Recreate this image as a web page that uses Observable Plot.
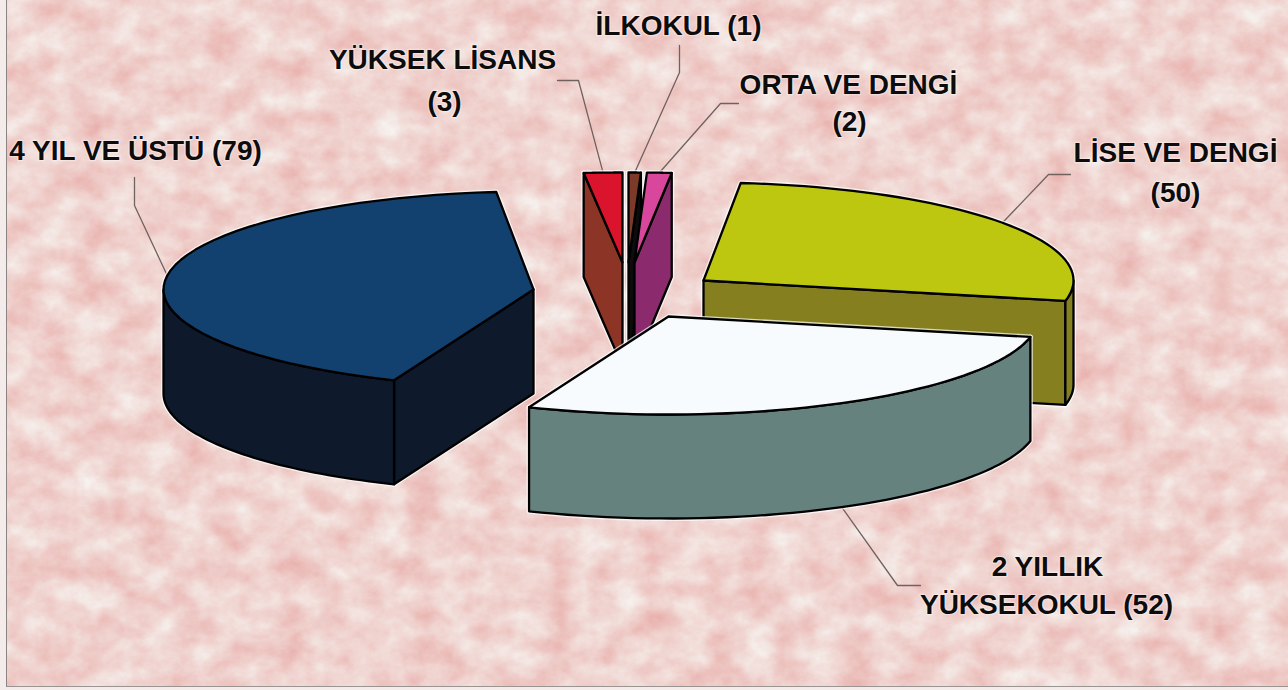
<!DOCTYPE html>
<html lang="tr">
<head>
<meta charset="utf-8">
<script src="https://cdn.jsdelivr.net/npm/d3@7"></script>
<script src="https://cdn.jsdelivr.net/npm/@observablehq/plot@0.6"></script>
<style>
html,body{margin:0;padding:0;background:#f3ecea;width:1288px;height:690px;overflow:hidden}
#paper{position:absolute;left:6px;top:0;width:1282px;height:687px;box-sizing:border-box;border-left:1.5px solid #8a8583;border-bottom:1.5px solid #9a9593;}
#chart{position:absolute;left:0;top:0}
#chart svg{background:transparent;display:block}
</style>
</head>
<body>
<div id="paper"></div>
<div id="chart"></div>
<script>
// ---- chart data (clockwise from 12 o'clock) ----
const names  = ["İLKOKUL", "ORTA VE DENGİ", "LİSE VE DENGİ", "2 YILLIK YÜKSEKOKUL", "4 YIL VE ÜSTÜ", "YÜKSEK LİSANS"];
const values = [1, 2, 50, 52, 79, 3];

// ---- look of each slice ----
const topColors  = ["#7e3a28", "#d8479c", "#bec70f", "#f8fbfd", "#12406f", "#da142c"];
const sideColors = ["#0d0b0b", "#8b2a6c", "#857f20", "#66827f", "#0e1a2c", "#8c3425"];

// ---- layout: exploded apex of each slice and ellipse radii ----
const apexX = [628, 634, 703, 668, 533, 622];
const apexY = [262, 262, 280, 316, 289, 262];
const radX  = [370, 370, 370, 370, 370, 386];
const radY  = [ 90,  90,  98,  98,  98,  90];
const depth = 104;

// ---- label text and placement ----
const labelRows = [
  ["İLKOKUL (1)", 678, 26],
  ["YÜKSEK LİSANS", 442, 60],
  ["(3)", 444, 102],
  ["ORTA VE DENGİ", 848, 85],
  ["(2)", 849, 122],
  ["LİSE VE DENGİ", 1175, 153],
  ["(50)", 1175, 193],
  ["4 YIL VE ÜSTÜ (79)", 135, 151],
  ["2 YILLIK", 1047, 567],
  ["YÜKSEKOKUL (52)", 1046, 605]
];
// leader waypoints from the label toward the slice mid-angle
const leaderElbows = [
  [[679,45],[679,72]],
  [[738,103],[720,103]],
  [[1070,174],[1048,174]],
  [[920,585],[897,585]],
  [[134,177],[134,205]],
  [[557,80],[578,80]]
];

// ---- geometry derived from the values ----
const total = d3.sum(values);
const cum = d3.cumsum(values);
const startA = values.map((v,i) => (cum[i]-v)/total*2*Math.PI);
const endA   = values.map((v,i) => cum[i]/total*2*Math.PI);
const rim = (i,a,dz=0) => ({x: apexX[i]+radX[i]*Math.sin(a), y: apexY[i]-radY[i]*Math.cos(a)+dz});
const arc = (i,a0,a1,dz=0) => d3.range(0,49).map(k => rim(i,a0+(a1-a0)*k/48,dz));
const apex = (i,dz=0) => ({x: apexX[i], y: apexY[i]+dz});

function sliceFaces(i){
  const a0=startA[i], a1=endA[i], faces=[];
  const wall = a => [apex(i), rim(i,a), rim(i,a,depth), apex(i,depth)];
  if (i===0 || i===1 || i===2) faces.push({pts:wall(a1), fill:sideColors[i]});
  if (i===4 || i===5) faces.push({pts:wall(a0), fill:sideColors[i]});
  const lo=Math.max(a0,Math.PI/2), hi=Math.min(a1,3*Math.PI/2);
  if (hi>lo) faces.push({pts:[...arc(i,lo,hi), ...arc(i,lo,hi,depth).reverse()], fill:sideColors[i]});
  faces.push({pts:[apex(i), ...arc(i,a0,a1)], fill:topColors[i]});
  return faces;
}
const halo = f => Plot.line(f.pts,{x:"x",y:"y",curve:"linear-closed",stroke:"#fff",strokeOpacity:0.7,strokeWidth:5,strokeLinejoin:"round"});
const face = f => Plot.line(f.pts,{x:"x",y:"y",curve:"linear-closed",fill:f.fill,stroke:"#000",strokeWidth:2.3,strokeLinejoin:"round"});

const marks = [];
// leaders
values.forEach((v,i)=>{
  const mid=(startA[i]+endA[i])/2;
  const end = i===3 ? rim(i,mid,depth) : rim(i,mid);
  const e = leaderElbows[i];
  marks.push(Plot.line([{x:e[0][0],y:e[0][1]},{x:e[1][0],y:e[1][1]},end],{x:"x",y:"y",stroke:"#6f625f",strokeWidth:1.3}));
});
// slices, back to front; halos of a group go under all of that group's faces
[[5,0,1],[2],[4],[3]].forEach(group=>{
  const faces = group.flatMap(sliceFaces);
  faces.forEach(f=>marks.push(halo(f)));
  faces.forEach(f=>marks.push(face(f)));
});
// labels
marks.push(Plot.text(labelRows,{
  x:d=>d[1], y:d=>d[2], text:d=>d[0],
  fontFamily:"'Liberation Sans',Arial,sans-serif", fontWeight:"bold", fontSize:28,
  fill:"#0c0c0c", stroke:"#fff", strokeOpacity:0.4, strokeWidth:2.5, textAnchor:"middle", lineAnchor:"middle"
}));

const plot = Plot.plot({
  width:1288, height:690, margin:0, style:{background:"transparent"},
  x:{domain:[0,1288],range:[0,1288],axis:null},
  y:{domain:[0,690],range:[0,690],axis:null},
  marks
});
document.getElementById("chart").appendChild(plot);

// mottled paper texture behind the chart
const tex = `<svg xmlns='http://www.w3.org/2000/svg' width='1282' height='687'><defs>
<filter id='n' x='0' y='0' width='100%' height='100%' color-interpolation-filters='sRGB'>
<feTurbulence type='fractalNoise' baseFrequency='0.03 0.036' numOctaves='6' seed='11'/>
<feColorMatrix type='matrix' values='0.06 0 0 0 0.91  0.30 0 0 0 0.675  0.30 0 0 0 0.66  0 0 0 0 1'/>
</filter></defs><rect width='1282' height='687' filter='url(#n)'/></svg>`;
document.getElementById("paper").style.background = `url("data:image/svg+xml,${encodeURIComponent(tex)}")`;
</script>
</body>
</html>
